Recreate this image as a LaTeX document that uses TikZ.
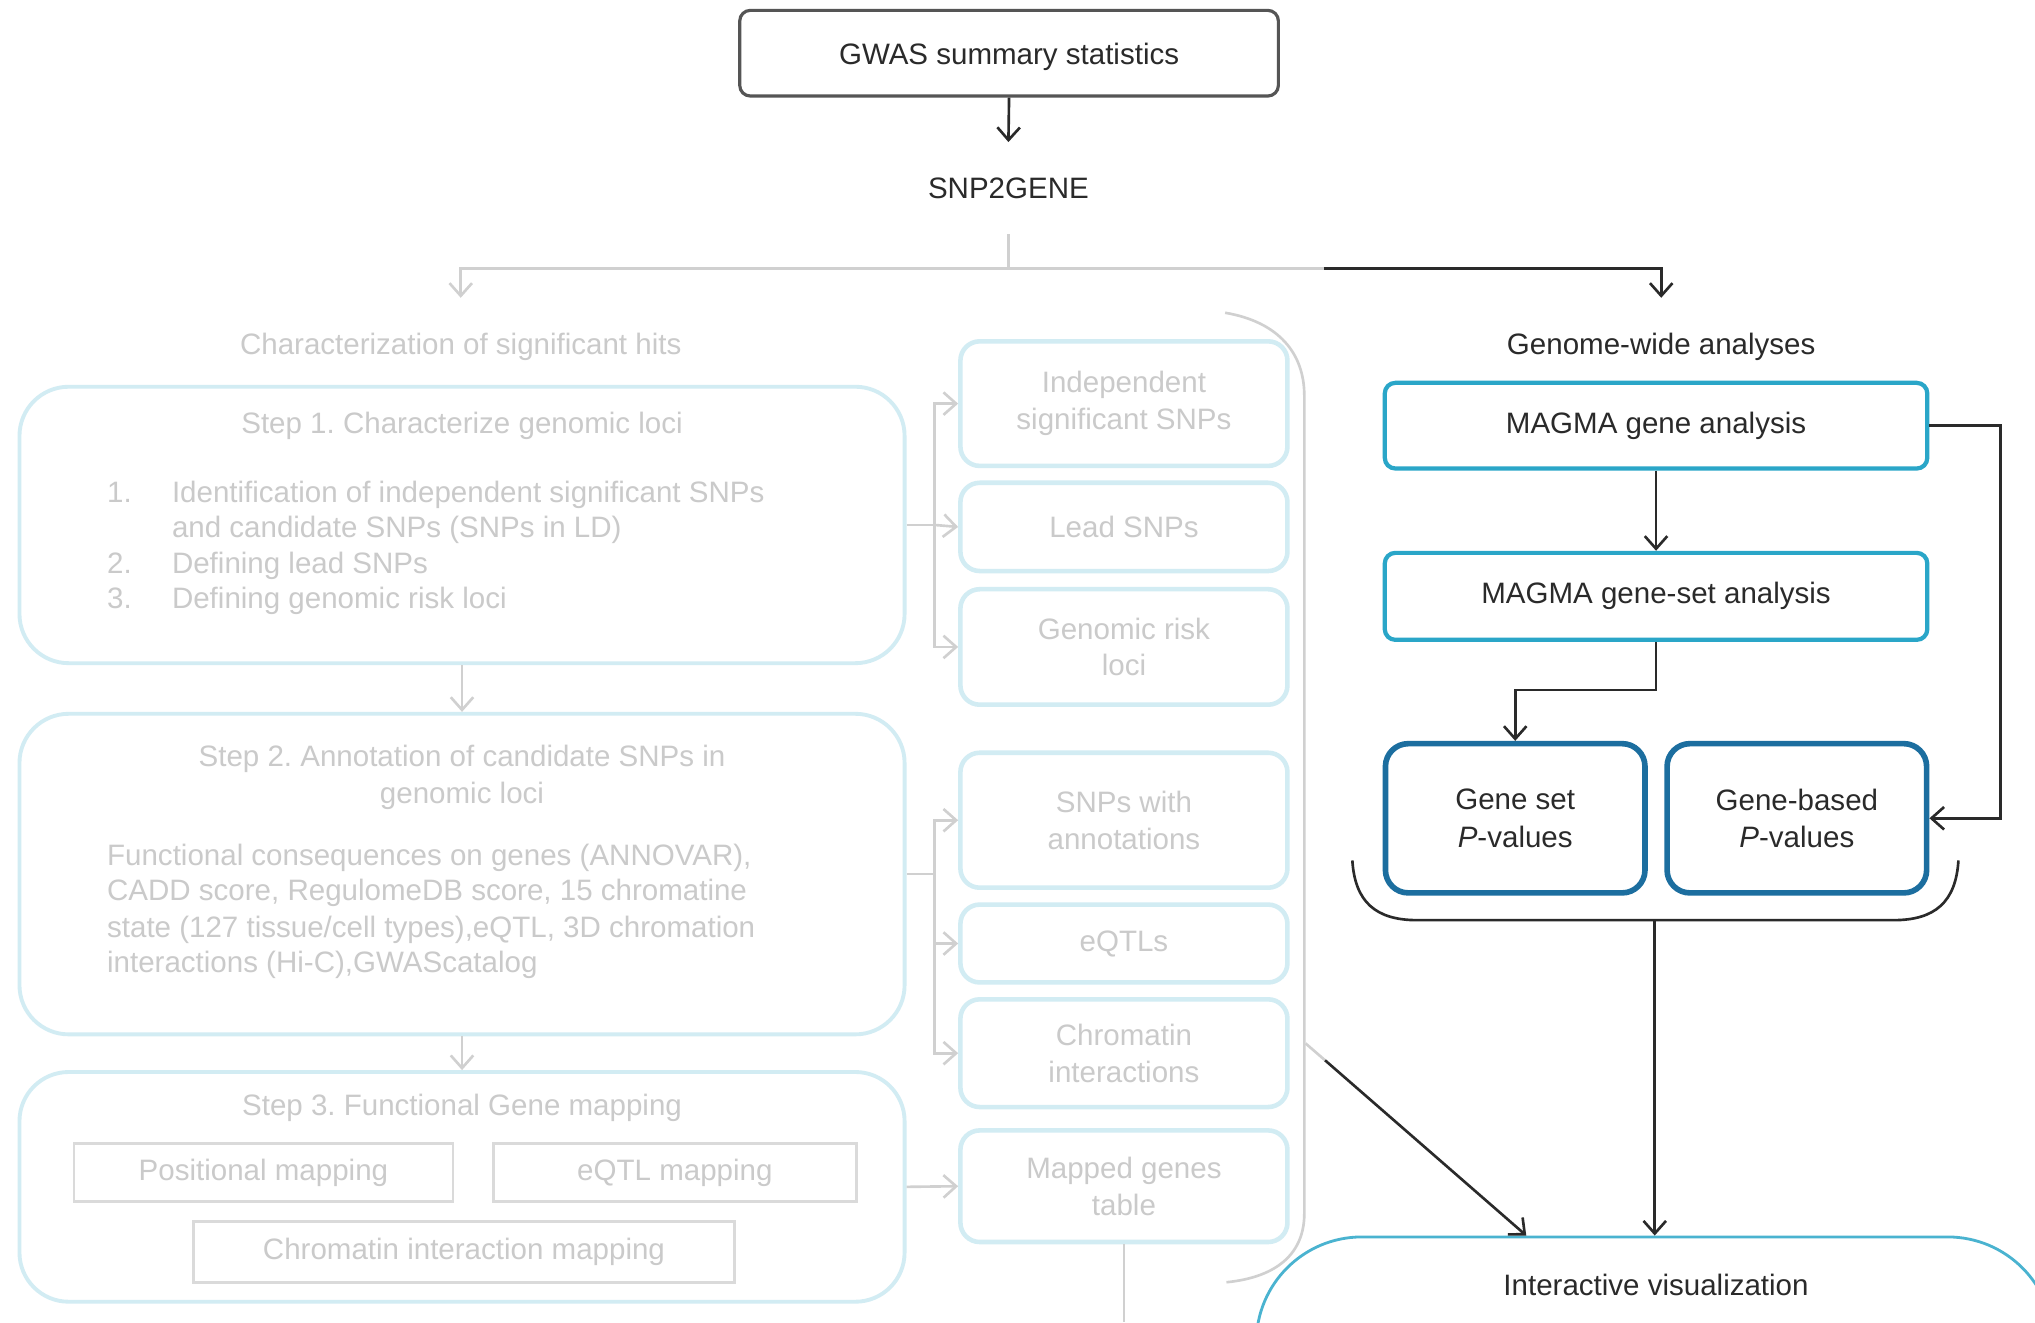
\documentclass[tikz,border=0pt]{standalone}
\usepackage{fontspec}
\setmainfont{Liberation Sans}
\usetikzlibrary{arrows.meta,calc}
\definecolor{dk}{HTML}{2A2A2A}
\definecolor{ltline}{HTML}{D0D0D0}
\definecolor{fadetext}{HTML}{CACACA}
\definecolor{fadebox}{HTML}{D2ECF3}
\definecolor{cyanbox}{HTML}{2AA6C8}
\definecolor{bluebox}{HTML}{1C6E9F}
\definecolor{grayrect}{HTML}{DADADA}
\newcommand\dpx[1]{#1*0.3693pt}
\tikzset{
  every node/.style={font=\fontsize{8.4}{10.1}\selectfont\frenchspacing, inner sep=0pt},
  dtext/.style={text=dk},
  ftext/.style={text=fadetext},
  darr/.style={draw=dk, line width=0.75pt, -{Straight Barb[length=3.6pt,width=6.4pt,line width=0.75pt]}},
  dline/.style={draw=dk, line width=0.75pt},
  larr/.style={draw=ltline, line width=0.75pt, -{Straight Barb[length=3.6pt,width=6.4pt,line width=0.75pt]}},
  lline/.style={draw=ltline, line width=0.75pt},
  fadebig/.style={draw=fadebox, line width=1.1pt, rounded corners=14pt, text=fadetext, align=center},
  fadesmall/.style={draw=fadebox, line width=1.3pt, rounded corners=5.5pt, text=fadetext, align=center, minimum width=\dpx{252}},
  grect/.style={draw=grayrect, line width=0.8pt, text=fadetext, align=center},
  cbox/.style={draw=cyanbox, line width=1.2pt, rounded corners=3pt, text=dk, minimum width=\dpx{418}},
  bbox/.style={draw=bluebox, line width=1.6pt, rounded corners=6.5pt, text=dk, align=center, minimum width=\dpx{200}, minimum height=\dpx{115}},
  litem/.style={text=fadetext, anchor=base west},
}
\begin{document}
\begin{tikzpicture}[x=0.3693pt, y=-0.3693pt]
\clip (0,0) rectangle (1568,1019);
\fill[white] (0,0) rectangle (1568,1019);

% ---------- top ----------
\node[draw=dk!80, line width=0.9pt, rounded corners=3pt, minimum width=\dpx{415}, minimum height=\dpx{66}] (gwas) at (777.5,41) {};
\node[dtext] (gwast) at (777.5,44) {GWAS summary statistics};
\node[dtext, minimum height=\dpx{70}] (snp) at (777,145) {SNP2GENE};
\draw[darr] (gwas.south) -- (snp.north);

\coordinate (split) at (777,207);
\coordinate (dkstart) at (1020,207);
\node[ftext, minimum height=\dpx{74}] (charhits) at (355,267) {Characterization of significant hits};
\node[dtext, minimum height=\dpx{74}] (gwa) at (1280,267) {Genome-wide analyses};
\draw[lline] (snp.south) -- (split);
\draw[larr] (split) -| (charhits.north);
\draw[lline] (split) -- (dkstart);
\draw[darr] (dkstart) -| (gwa.north);

% ---------- left column ----------
\node[fadebig, minimum width=\dpx{682}, minimum height=\dpx{213}] (step1) at (356,404.5) {};
\node[ftext] (s1t) at (356,328) {Step 1. Characterize genomic loci};
\node[litem] (s1n1) at (82,387) {1.};
\node[litem] (s1a) at (132,387) {Identification of independent significant SNPs};
\node[litem] (s1b) at (132,414) {and candidate SNPs (SNPs in LD)};
\node[litem] (s1n2) at (82,442) {2.};
\node[litem] (s1c) at (132,442) {Defining lead SNPs};
\node[litem] (s1n3) at (82,469) {3.};
\node[litem] (s1d) at (132,469) {Defining genomic risk loci};

\node[fadebig, minimum width=\dpx{682}, minimum height=\dpx{247}] (step2) at (356,673.5) {};
\node[ftext] (s2t1) at (356,585) {Step 2. Annotation of candidate SNPs in};
\node[ftext] (s2t2) at (356,613) {genomic loci};
\node[litem] (s2a) at (82,667) {Functional consequences on genes (ANNOVAR),};
\node[litem] (s2b) at (82,694) {CADD score, RegulomeDB score, 15 chromatine};
\node[litem] (s2c) at (82,722) {state (127 tissue/cell types),eQTL, 3D chromation};
\node[litem] (s2d) at (82,749) {interactions (Hi-C),GWAScatalog};

\node[fadebig, minimum width=\dpx{682}, minimum height=\dpx{177}] (step3) at (356,914.5) {};
\node[ftext] (s3t) at (356,854) {Step 3. Functional Gene mapping};
\node[grect, minimum width=\dpx{292}, minimum height=\dpx{45}] (posmap) at (203,903.5) {Positional mapping};
\node[grect, minimum width=\dpx{280}, minimum height=\dpx{45}] (eqmap) at (520,903.5) {eQTL mapping};
\node[grect, minimum width=\dpx{417}, minimum height=\dpx{47}] (chmap) at (357.5,964.5) {Chromatin interaction mapping};

\draw[larr] (step1.south) -- (step2.north);
\draw[larr] (step2.south) -- (step3.north);

% ---------- middle column ----------
\node[fadesmall, minimum height=\dpx{96}] (indep) at (866,311) {Independent\\[0.3pt]significant SNPs};
\node[fadesmall, minimum height=\dpx{68}] (lead) at (866,406) {Lead SNPs};
\node[fadesmall, minimum height=\dpx{89}] (risk) at (866,498.5) {Genomic risk\\[0.3pt]loci};
\node[fadesmall, minimum height=\dpx{104}] (annot) at (866,632) {SNPs with\\[0.3pt]annotations};
\node[fadesmall, minimum height=\dpx{60}] (eqtls) at (866,727) {eQTLs};
\node[fadesmall, minimum height=\dpx{83}] (chrom) at (866,811.5) {Chromatin\\[0.3pt]interactions};
\node[fadesmall, minimum height=\dpx{86}] (mapped) at (866,914) {Mapped genes\\[0.3pt]table};

\coordinate (bus1) at (720,404.5);
\draw[lline] (step1.east) -- (bus1);
\draw[larr] (bus1) |- (indep.west);
\draw[larr] (bus1) -- (lead.west);
\draw[larr] (bus1) |- (risk.west);
\coordinate (bus2) at (720,673.5);
\draw[lline] (step2.east) -- (bus2);
\draw[larr] (bus2) |- (annot.west);
\draw[larr] (bus2) |- (eqtls.west);
\draw[larr] (bus2) |- (chrom.west);
\draw[larr] (step3.east) -- (mapped.west);
\coordinate (mapbot) at (866,1019);
\draw[lline] (mapped.south) -- (mapbot);

% bracket around middle column
\draw[lline] (944,241) .. controls (985,248) and (1005,272) .. (1005,305) -- (1005,935) .. controls (1005,965) and (985,984) .. (945,988);

% ---------- right column ----------
\node[cbox, minimum height=\dpx{66}] (magma1) at (1276,328) {MAGMA gene analysis};
\node[cbox, minimum height=\dpx{67}] (magma2) at (1276,459.5) {MAGMA gene-set analysis};
\node[bbox] (geneset) at (1167.5,630.5) {Gene set\\[0.6pt]\textit{P}-values};
\node[bbox] (genebased) at (1384.5,630.5) {Gene-based\\[0.6pt]\textit{P}-values};

\draw[darr] (magma1.south) -- (magma2.north);
\draw[darr] (magma2.south) -- ++(0,37) -| (geneset.north);
\draw[darr] (magma1.east) -- ++(55,0) |- (genebased.east);

% bracket under P-value boxes
\coordinate (brb) at (1275,709);
\draw[dline] (1042,663) .. controls (1044,695) and (1060,709) .. (1092,709) -- (1459,709) .. controls (1491,709) and (1507,695) .. (1509,663);

% ---------- interactive visualization ----------
\node[draw=cyanbox!85, line width=0.8pt, rounded corners=30pt, minimum width=\dpx{614}, minimum height=\dpx{220}, anchor=north] (vis) at (1275,952) {};
\node[dtext] (vist) at (1276,990) {Interactive visualization};

\draw[darr] (brb) -- (vis.north);
\coordinate (brk) at (1006,804);
\coordinate (diag) at (1021,817);
\coordinate (visin) at ($(vis.north)+(-99,0)$);
\draw[lline] (brk) -- (diag);
\draw[darr] (diag) -- (visin);
\end{tikzpicture}
\end{document}
